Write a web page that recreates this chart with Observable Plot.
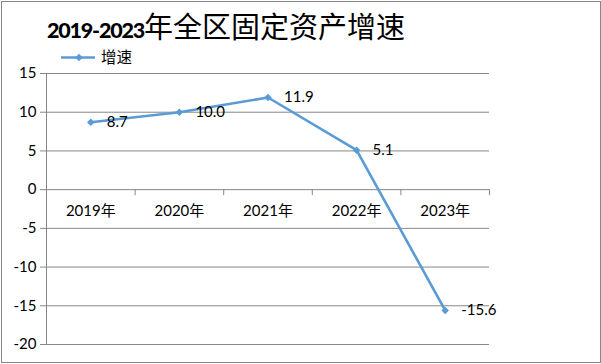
<!DOCTYPE html>
<html>
<head>
<meta charset="utf-8">
<script src="https://cdn.jsdelivr.net/npm/d3@7"></script>
<script src="https://cdn.jsdelivr.net/npm/@observablehq/plot@0.6"></script>
<style>
  html, body { margin: 0; padding: 0; background: #fff; }
  #wrap { position: relative; width: 601px; height: 364px; overflow: hidden; background: #fff; }
  #frame { position: absolute; left: 1px; top: 1px; width: 600px; height: 362px; box-sizing: border-box; border: 1px solid #878787; pointer-events: none; }
  #title { position: absolute; left: 47px; top: 8px; white-space: nowrap; line-height: 34px; color: #000; }
  #title .num { font-family: Lato, "Noto Sans CJK SC", sans-serif; font-weight: 900; font-size: 21.5px; letter-spacing: -1.2px; }
  #title .cjk { font-family: "Noto Sans CJK SC", sans-serif; font-weight: 400; font-size: 29px; }
  #legend { position: absolute; left: 0; top: 0; }
  #chart { position: absolute; left: 0; top: 0; }
</style>
</head>
<body>
<div id="wrap">
  <div id="chart"></div>
  <div id="title"><span class="num">2019-2023</span><span class="cjk">年全区固定资产增速</span></div>
  <svg id="legend" width="601" height="80"></svg>
  <div id="frame"></div>
</div>
<script>
const years = ["2019年", "2020年", "2021年", "2022年", "2023年"];
const growth = [8.7, 10.0, 11.9, 5.1, -15.6];
const yTicks = [-20, -15, -10, -5, 0, 5, 10, 15];
const seriesName = "增速";

const lineColor = "#5b9bd5";
const gridColor = "#878787";
const rows = years.map((year, i) => ({year, i, value: growth[i]}));
const bounds = d3.range(0, years.length + 1);

const chart = Plot.plot({
  width: 601,
  height: 364,
  marginLeft: 46,
  marginRight: 112,
  marginTop: 73,
  marginBottom: 20,
  x: {domain: [0, years.length], axis: null},
  y: {domain: [-20, 15], axis: null},
  style: {fontFamily: "Lato, 'Noto Sans CJK SC', sans-serif", background: "transparent", color: "#000"},
  marks: [
    Plot.ruleY(yTicks, {y: d => d, stroke: gridColor, strokeWidth: 1}),
    Plot.ruleX([0], {x: d => d, stroke: gridColor, strokeWidth: 1}),
    Plot.ruleY(yTicks, {y: d => d, x1: 0, x2: 0, insetLeft: -6, stroke: gridColor}),
    Plot.ruleX(bounds, {x: d => d, y1: 0, y2: 0, insetBottom: -6, stroke: gridColor}),
    Plot.text(yTicks, {x: 0, y: d => d, text: d => String(d), textAnchor: "end", dx: -10, fontSize: 15, fill: "#000"}),
    Plot.text(rows, {x: d => d.i + 0.5, y: 0, text: d => d.year, dy: 22, fontSize: 15, fill: "#000"}),
    Plot.line(rows, {x: d => d.i + 0.5, y: "value", stroke: lineColor, strokeWidth: 2.6}),
    Plot.dot(rows, {x: d => d.i + 0.5, y: "value", symbol: "diamond2", r: 3.4, fill: lineColor, stroke: "none"}),
    Plot.text(rows, {x: d => d.i + 0.5, y: "value", text: d => d.value.toFixed(1), textAnchor: "start", dx: 16, fontSize: 15, fill: "#000"})
  ]
});
document.getElementById("chart").appendChild(chart);

// legend
const lg = d3.select("#legend");
lg.append("line").attr("x1", 61).attr("x2", 95).attr("y1", 57.5).attr("y2", 57.5)
  .attr("stroke", lineColor).attr("stroke-width", 2.6);
lg.append("path").attr("d", d3.symbol(d3.symbolDiamond2, Math.PI * 3.4 * 3.4)())
  .attr("transform", "translate(79,57.5)").attr("fill", lineColor);
lg.append("text").attr("x", 101).attr("y", 57.5).attr("dy", "0.35em")
  .attr("font-family", "'Noto Sans CJK SC', sans-serif").attr("font-size", 15.5)
  .attr("fill", "#000").text(seriesName);
</script>
</body>
</html>
